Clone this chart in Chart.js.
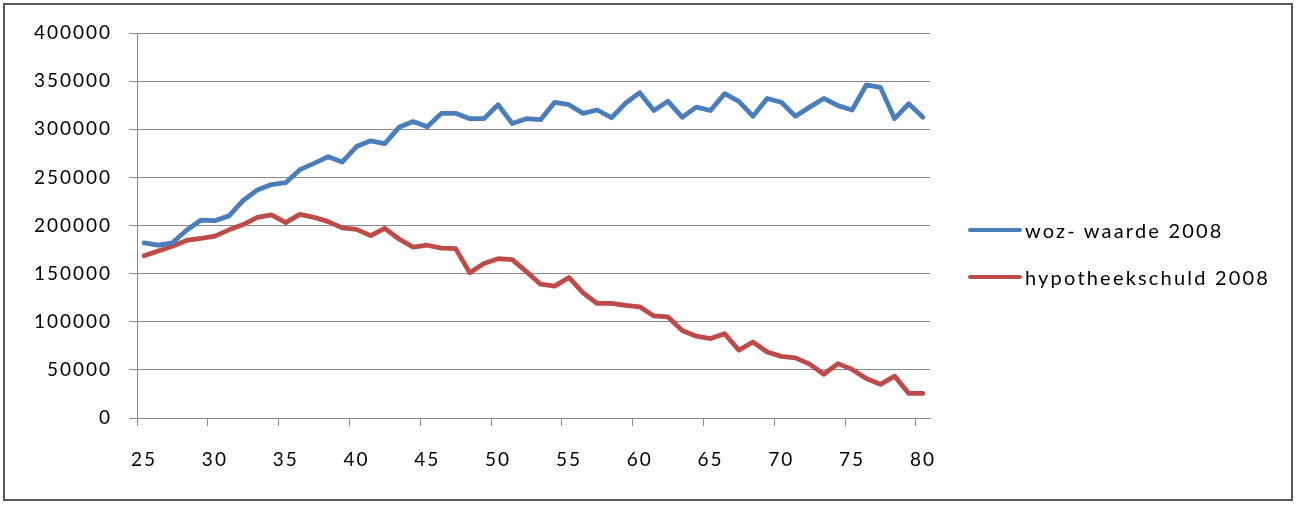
<!DOCTYPE html>
<html>
<head>
<meta charset="utf-8">
<script src="https://cdn.jsdelivr.net/npm/chart.js@4.4.1/dist/chart.umd.min.js"></script>
<style>
html,body{margin:0;padding:0;background:#fff;}
#wrap{position:relative;width:1299px;height:505px;overflow:hidden;}
#frame{position:absolute;left:3px;top:3px;width:1286px;height:494px;border:2px solid #5a5a5a;pointer-events:none;}
canvas{position:absolute;left:0;top:0;}
.lg{position:absolute;left:968px;height:24px;display:flex;align-items:center;font-family:Lato,sans-serif;font-size:20px;letter-spacing:2.2px;color:#000;white-space:nowrap;}
.lg .sw{display:inline-block;width:54px;height:4.5px;border-radius:2.25px;margin-right:3px;}
</style>
</head>
<body>
<div id="wrap"><canvas id="c" width="1299" height="505"></canvas><div id="frame"></div></div>
<script>
// ---- data ----
const ages = [25,26,27,28,29,30,31,32,33,34,35,36,37,38,39,40,41,42,43,44,45,46,47,48,49,50,
  51,52,53,54,55,56,57,58,59,60,61,62,63,64,65,66,67,68,69,70,71,72,73,74,75,76,77,78,79,80];
const wozWaarde2008 = [182000,179500,182000,195000,205500,205000,210000,226000,237000,242500,
  244500,258000,264500,271500,266000,282000,288000,285000,302000,308000,302500,316500,316500,
  311000,311000,325500,306000,311000,310000,328000,325500,316500,320000,312000,327000,338000,
  319500,329000,312500,323000,319500,337000,329000,313500,332000,328000,313500,323000,332000,
  324500,320000,346000,343500,311000,326500,312500];
const hypotheekschuld2008 = [168500,173500,178500,184500,186500,189000,195500,201000,208500,211000,
  203000,211500,208500,204000,197500,196000,189500,197000,186000,177500,179500,176500,176000,
  151000,160500,165500,164500,152000,139000,137000,146000,130000,119000,119000,117000,115500,
  106000,105000,91000,85000,82500,87500,70500,79000,68500,64000,62500,56000,45500,56500,50500,
  41000,35000,43500,25500,25500];
const seriesNames = ['woz- waarde 2008', 'hypotheekschuld 2008'];
const yMin = 0, yMax = 400000, yStep = 50000;
const xLabelEvery = 5;

// ---- style ----
const seriesColors = ['#4a7ebb', '#be4b48'];
const FONT = 'Lato';
const FS = 19;
const SP = '2px';
const GRID = '#888888';

Chart.defaults.font.family = FONT;
Chart.defaults.font.size = FS;
Chart.defaults.color = '#000';

function setSp(c){ c.ctx.letterSpacing = SP; }
const spacingPlugin = {id:'sp', beforeInit:setSp, beforeUpdate:setSp, beforeLayout:setSp, beforeRender:setSp, beforeDraw:setSp};

const chart = new Chart(document.getElementById('c'), {
  type: 'line',
  plugins: [spacingPlugin],
  data: {
    labels: ages,
    datasets: [
      {label: seriesNames[0], data: wozWaarde2008, borderColor: seriesColors[0], backgroundColor: seriesColors[0],
       borderWidth: 4.8, pointRadius: 0, tension: 0, borderJoinStyle: 'round', borderCapStyle: 'round'},
      {label: seriesNames[1], data: hypotheekschuld2008, borderColor: seriesColors[1], backgroundColor: seriesColors[1],
       borderWidth: 4.8, pointRadius: 0, tension: 0, borderJoinStyle: 'round', borderCapStyle: 'round'}
    ]
  },
  options: {
    responsive: false,
    animation: false,
    devicePixelRatio: 1,
    layout: {padding: {top: 33, left: 0, right: 369, bottom: 31}},
    plugins: {
      tooltip: {enabled: false},
      legend: {display: false}
    },
    scales: {
      x: {
        type: 'category',
        offset: true,
        grid: {
          display: true, drawOnChartArea: false, drawTicks: true, tickLength: 8, offset: true,
          color: ctx => (ctx.index !== undefined && ctx.index % xLabelEvery === 0) ? GRID : 'rgba(0,0,0,0)'
        },
        border: {display: true, color: GRID, width: 1},
        ticks: {
          autoSkip: false, maxRotation: 0, minRotation: 0, padding: 22, color: '#000',
          font: {size: FS},
          callback: function(v, i) { const a = ages[i]; return a % xLabelEvery === 0 ? String(a) : ''; }
        },
        afterFit(s) { s.height = 56; }
      },
      y: {
        position: 'left',
        min: yMin, max: yMax,
        grid: {color: GRID, lineWidth: 1, tickLength: 8, drawTicks: true},
        border: {display: true, color: GRID, width: 1},
        ticks: {stepSize: yStep, padding: 17, color: '#000', font: {size: FS}, callback: v => String(v)},
        afterFit(s) { s.width = 137; }
      }
    }
  }
});

// ---- legend (HTML, built from the series names/colours) ----
const wrap = document.getElementById('wrap');
chart.data.datasets.forEach((ds, i) => {
  const row = document.createElement('div');
  row.className = 'lg';
  row.style.top = (218 + i * 47) + 'px';
  const sw = document.createElement('span');
  sw.className = 'sw';
  sw.style.background = ds.borderColor;
  const tx = document.createElement('span');
  tx.textContent = ds.label;
  row.appendChild(sw); row.appendChild(tx);
  wrap.appendChild(row);
});
</script>
</body>
</html>
